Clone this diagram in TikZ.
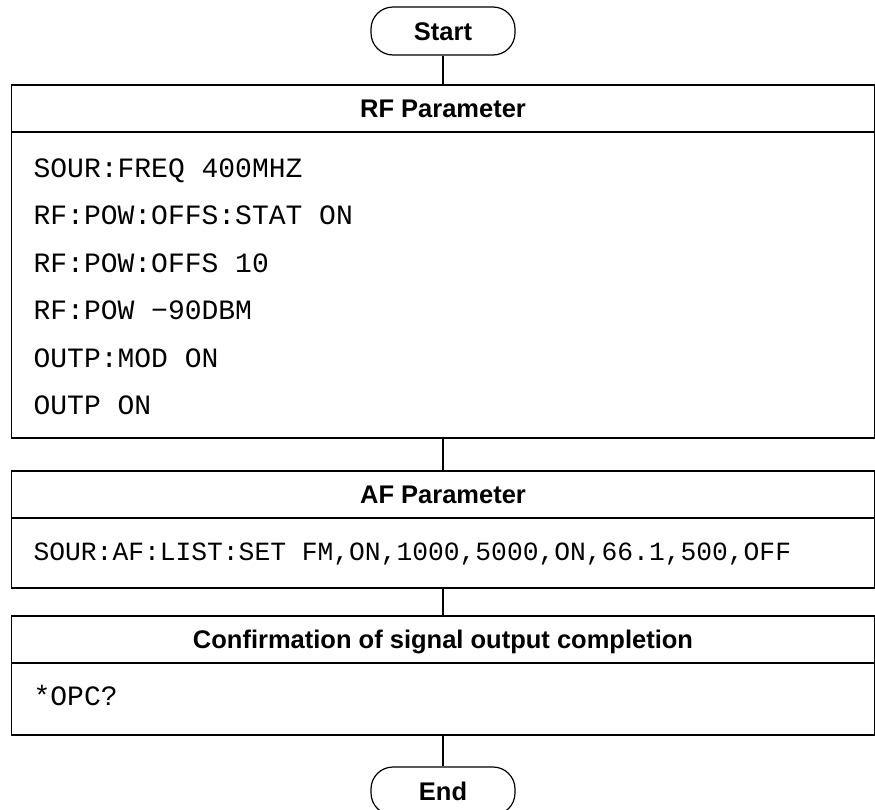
\documentclass[tikz,border=0pt]{standalone}
\usepackage{fontspec}
\setmainfont{Liberation Sans}
\setmonofont{Liberation Mono}
\usepackage{tikz}
\usetikzlibrary{calc}
\usetikzlibrary{positioning}

\begin{document}
\begin{tikzpicture}
			[
			x=1pt, y=-1pt,
			line width=1.2pt
			]
			
			% Node styles: terminal, header band, body, command line
			\tikzstyle{term node}=[draw,rounded corners=22pt,minimum width=144pt,minimum height=48pt,inner sep=0pt,font=\fontsize{25.5}{30}\selectfont\bfseries,text height=18pt,text depth=0pt];
			\tikzstyle{head node}=[draw,minimum width=863pt,minimum height=47pt,inner sep=0pt,font=\fontsize{25.5}{30}\selectfont\bfseries,text height=18pt,text depth=0pt];
			\tikzstyle{body node}=[draw,minimum width=863pt,inner sep=0pt];
			\tikzstyle{cmd node}=[anchor=base west,inner sep=0pt,font=\fontsize{28}{32}\ttfamily];
			
			\useasboundingbox (0,0) rectangle (875,809);
			
			% Start
			\node(start)[term node]at(443,31){Start};
			
			% RF parameter
			\node(rfhead)[head node]at(443,108.5){RF Parameter};
			\node(rfbody)[body node,minimum height=306pt]at(443,285){};
			\foreach \txt [count=\i] in {SOUR:FREQ 400MHZ, RF:POW:OFFS:STAT ON, RF:POW:OFFS 10, RF:POW −90DBM, OUTP:MOD ON, OUTP ON}
				\node(rf\i)[cmd node]at(33,{177.3+47.5*(\i-1)}){\txt};
			
			% AF parameter
			\node(afhead)[head node]at(443,494.5){AF Parameter};
			\node(afbody)[body node,minimum height=70pt]at(443,553){};
			\node(af1)[cmd node,font=\fontsize{26.3}{30}\ttfamily]at(33,560.7){SOUR:AF:LIST:SET FM,ON,1000,5000,ON,66.1,500,OFF};
			
			% Confirmation
			\node(cfhead)[head node]at(443,639.5){Confirmation of signal output completion};
			\node(cfbody)[body node,minimum height=72pt]at(443,699){};
			\node(cf1)[cmd node]at(33,705){*OPC?};
			
			% End
			\node(end)[term node]at(443,791){End};
			
			% Connectors
			\draw(start)--(rfhead);
			\draw(rfbody)--(afhead);
			\draw(afbody)--(cfhead);
			\draw(cfbody)--(end);
			\end{tikzpicture}
\end{document}
